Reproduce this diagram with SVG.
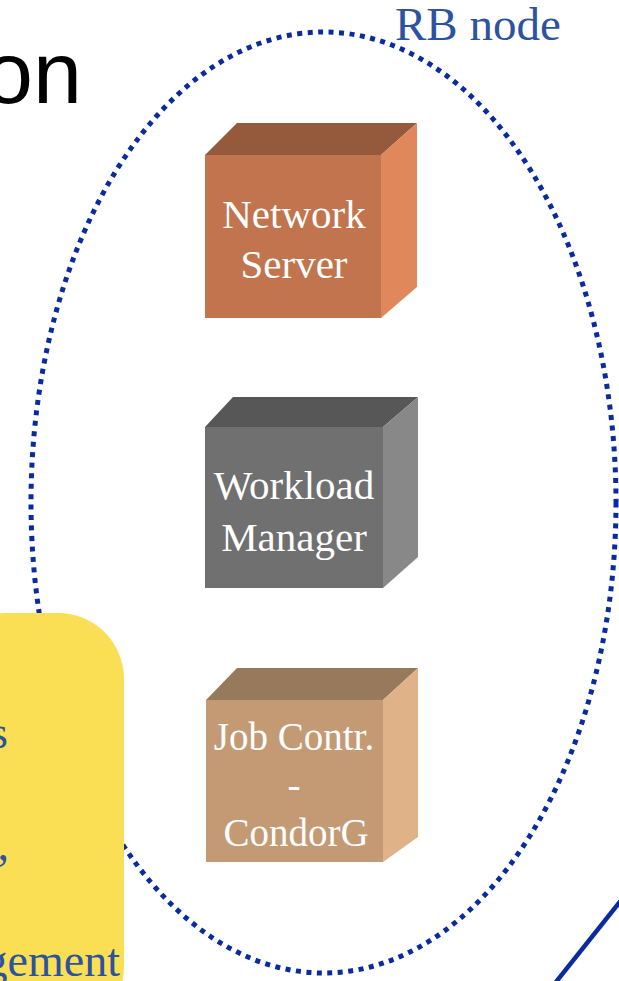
<svg xmlns="http://www.w3.org/2000/svg" width="619" height="981" viewBox="0 0 619 981">
<style>
.title{font-family:"Liberation Sans",Arial,sans-serif;font-size:88px;fill:#000}
.lbl{font-family:"Liberation Serif","Times New Roman",serif;fill:#fff;text-anchor:middle}
.blue{font-family:"Liberation Serif","Times New Roman",serif;fill:#2C52A0}
.dotted{fill:none;stroke:#0A2B9E;stroke-width:5;stroke-dasharray:5 5.5}
.conn{fill:none;stroke:#0A2B9E;stroke-width:4.5}
</style>
<rect width="619" height="981" fill="#fff"/>
<text class="title" x="-16" y="103">on</text>
<g id="rb-node">
  <ellipse class="dotted" cx="323.5" cy="502.5" rx="292.5" ry="470.5"/>
  <text class="blue" x="395" y="40" font-size="47">RB node</text>
</g>
<g id="note">
  <rect x="-60" y="613" width="184" height="420" rx="66" ry="66" fill="#FADF55"/>
  <text class="blue" x="8" y="748" font-size="46" text-anchor="end">s</text>
  <text class="blue" x="9" y="860" font-size="46" text-anchor="end">,</text>
  <text class="blue" x="120" y="976" font-size="46" text-anchor="end">gement</text>
</g>
<g id="network-server">
  <polygon points="205,155 237,123 417,123 381,155" fill="#955A3B"/>
  <polygon points="381,155 417,123 417,287 381,318" fill="#E0875B"/>
  <rect x="205" y="155" width="176" height="163" fill="#C1744D"/>
  <text class="lbl" x="294" y="228" font-size="41">Network</text>
  <text class="lbl" x="294" y="278" font-size="41">Server</text>
</g>
<g id="workload-manager">
  <polygon points="205,427 233,397 418,397 383,427" fill="#575757"/>
  <polygon points="383,427 418,397 418,557 383,588" fill="#888888"/>
  <rect x="205" y="427" width="178" height="161" fill="#707070"/>
  <text class="lbl" x="294" y="499" font-size="41">Workload</text>
  <text class="lbl" x="294" y="551" font-size="41">Manager</text>
</g>
<g id="job-controller">
  <polygon points="206,700 237,668 418,668 383,700" fill="#977A5C"/>
  <polygon points="383,700 418,668 418,837 383,862" fill="#DFB387"/>
  <rect x="206" y="700" width="177" height="162" fill="#C49A74"/>
  <text class="lbl" x="294" y="750" font-size="39">Job Contr.</text>
  <text class="lbl" x="294" y="798" font-size="39">-</text>
  <text class="lbl" x="296" y="846" font-size="39">CondorG</text>
</g>
<g id="connectors">
  <line class="conn" x1="626" y1="894" x2="552" y2="987"/>
</g>
</svg>
